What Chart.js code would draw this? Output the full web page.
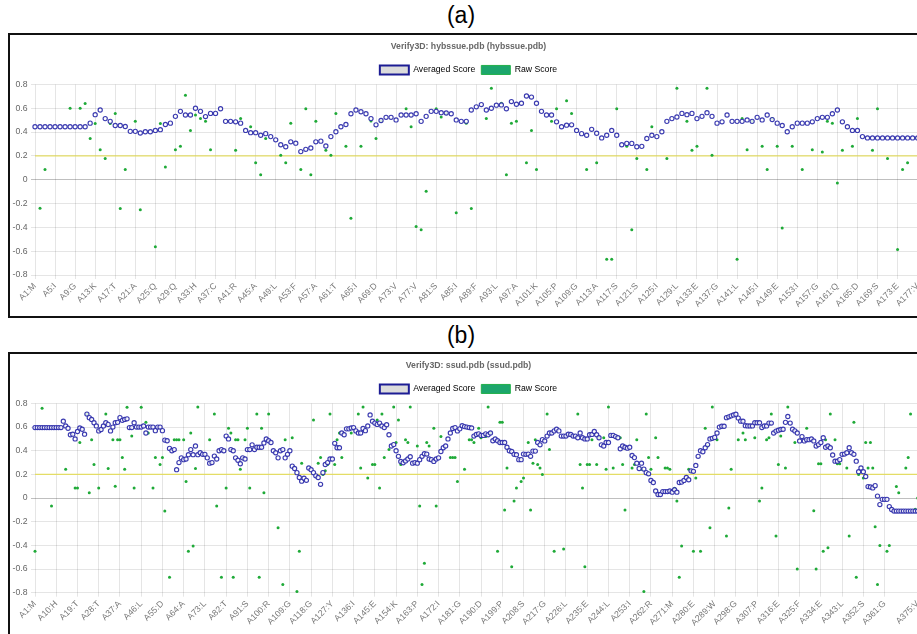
<!DOCTYPE html>
<html>
<head>
<meta charset="utf-8">
<script src="https://cdn.jsdelivr.net/npm/chart.js@4.4.1/dist/chart.umd.min.js"></script>
<style>
  html, body { margin: 0; padding: 0; background: #fff; }
  body { width: 917px; height: 634px; overflow: hidden; position: relative; font-family: "Liberation Sans", Arial, sans-serif; }
  .cap { position: absolute; left: 0; width: 922px; text-align: center; font-size: 23px; line-height: 1; color: #000; }
  .panel { position: absolute; left: 8px; width: 917px; height: 281px; border: 2px solid #111; background: #fff; overflow: hidden; }
  .panel canvas { display: block; }
</style>
</head>
<body>
<div class="cap" style="top:4px">(a)</div>
<div class="panel" style="top:33px"><canvas id="chartA" width="917" height="281"></canvas></div>
<div class="cap" style="top:324px">(b)</div>
<div class="panel" style="top:352px"><canvas id="chartB" width="917" height="281"></canvas></div>

<script>
// ---------- Verify3D profile of hybssue.pdb ----------
const titleA = 'Verify3D: hybssue.pdb (hybssue.pdb)';
const tickLabelsA = ['A1:M','A5:I','A9:G','A13:K','A17:T','A21:A','A25:Q','A29:Q','A33:H','A37:C',
  'A41:R','A45:A','A49:L','A53:F','A57:A','A61:T','A65:I','A69:D','A73:V','A77:V','A81:S','A85:I',
  'A89:F','A93:L','A97:A','A101:K','A105:P','A109:G','A113:A','A117:S','A121:S','A125:I','A129:L',
  'A133:E','A137:G','A141:L','A145:I','A149:E','A153:I','A157:G','A161:Q','A165:D','A169:S','A173:E','A177:V'];
// averaged (windowed) 3D-1D score, residues 1..177
const averagedA = [
  0.445,0.445,0.445,0.445,0.445,0.445,0.445,0.445,0.445,0.445,
  0.445,0.475,0.546,0.585,0.513,0.49,0.455,0.455,0.447,0.406,
  0.406,0.392,0.403,0.403,0.414,0.42,0.464,0.475,0.532,0.574,
  0.543,0.543,0.60,0.574,0.53,0.557,0.557,0.596,0.49,0.49,
  0.486,0.475,0.414,0.395,0.395,0.373,0.387,0.362,0.335,0.294,
  0.277,0.318,0.307,0.236,0.255,0.266,0.318,0.324,0.283,0.362,
  0.403,0.445,0.464,0.554,0.585,0.571,0.554,0.513,0.461,0.497,
  0.524,0.524,0.502,0.543,0.543,0.543,0.554,0.49,0.532,0.574,
  0.574,0.563,0.56,0.554,0.502,0.49,0.49,0.585,0.612,0.631,
  0.585,0.60,0.626,0.628,0.596,0.656,0.634,0.642,0.703,0.694,
  0.642,0.574,0.543,0.543,0.486,0.445,0.458,0.461,0.414,0.387,
  0.373,0.423,0.39,0.351,0.373,0.414,0.373,0.294,0.305,0.305,
  0.277,0.28,0.346,0.373,0.362,0.403,0.49,0.513,0.527,0.557,
  0.546,0.557,0.513,0.532,0.563,0.532,0.475,0.486,0.543,0.49,
  0.49,0.49,0.502,0.49,0.524,0.502,0.543,0.505,0.475,0.455,
  0.403,0.445,0.475,0.475,0.475,0.486,0.513,0.524,0.524,0.554,
  0.585,0.486,0.445,0.414,0.414,0.362,0.351,0.351,0.351,0.351,
  0.351,0.351,0.351,0.351,0.351,0.351,0.351];
// raw per-residue score: [residue, score]
const rawA = [
  [2,-0.24],[3,0.085],[8,0.6],[10,0.6],[11,0.64],[12,0.346],[13,0.472],[14,0.252],[15,0.178],[16,0.472],
  [17,0.557],[18,-0.241],[19,0.085],[21,0.49],[22,-0.252],[25,-0.563],[26,0.472],[27,0.107],[29,0.252],[30,0.28],
  [31,0.71],[32,0.414],[33,0.543],[34,0.513],[35,0.49],[36,0.252],[41,0.247],[42,0.513],[44,0.445],[45,0.143],
  [46,0.041],[47,0.346],[50,0.206],[51,0.143],[52,0.475],[54,0.085],[55,0.596],[56,0.041],[57,0.49],[59,0.247],
  [60,0.206],[61,0.557],[63,0.28],[64,-0.324],[66,0.28],[68,0.494],[69,0.346],[70,0.49],[75,0.596],[76,0.445],
  [77,-0.392],[78,-0.42],[79,-0.096],[81,0.596],[82,0.527],[83,0.557],[85,-0.277],[87,0.475],[88,-0.241],[91,0.513],
  [92,0.768],[94,0.642],[95,0.041],[96,0.475],[97,0.49],[99,0.143],[100,0.414],[101,0.085],[104,0.49],[105,0.596],
  [107,0.664],[108,0.557],[111,0.085],[113,0.143],[115,-0.667],[116,-0.667],[117,0.596],[119,0.28],[120,-0.42],[121,0.178],
  [123,0.085],[124,0.445],[127,0.178],[129,0.768],[131,0.49],[132,0.247],[133,0.28],[135,0.768],[136,0.206],[141,-0.667],
  [142,0.513],[143,0.252],[144,0.49],[146,0.28],[147,0.085],[148,0.513],[149,0.28],[150,-0.406],[152,0.28],[154,0.085],
  [156,0.252],[158,0.233],[159,0.49],[160,0.475],[161,-0.027],[162,0.247],[164,0.28],[165,0.513],[168,0.247],[169,0.596],
  [171,0.178],[173,-0.585],[174,0.085],[175,0.143],[177,0.354]];

// ---------- Verify3D profile of ssud.pdb ----------
const titleB = 'Verify3D: ssud.pdb (ssud.pdb)';
const tickLabelsB = ['A1:M','A10:H','A19:T','A28:T','A37:A','A46:L','A55:D','A64:A','A73:L','A82:T',
  'A91:S','A100:R','A109:G','A118:G','A127:Y','A136:I','A145:E','A154:K','A163:P','A172:I','A181:G',
  'A190:D','A199:P','A208:S','A217:G','A226:L','A235:E','A244:L','A253:I','A262:R','A271:M','A280:E',
  'A289:W','A298:G','A307:P','A316:E','A325:F','A334:E','A343:L','A352:S','A361:G','A375:V'];
// averaged (windowed) 3D-1D score, residues 1..375
const averagedB = [
  0.596,0.596,0.596,0.596,0.596,0.596,0.596,0.596,0.596,0.596,
  0.596,0.596,0.65,0.61,0.59,0.535,0.54,0.5,0.563,0.593,
  0.582,0.54,0.71,0.68,0.665,0.637,0.61,0.568,0.58,0.61,
  0.637,0.623,0.568,0.6,0.637,0.64,0.68,0.657,0.665,0.67,
  0.596,0.596,0.637,0.6,0.6,0.6,0.61,0.55,0.6,0.6,
  0.6,0.57,0.6,0.6,0.57,0.49,0.485,0.42,0.4,0.41,
  0.24,0.3,0.34,0.325,0.33,0.367,0.41,0.367,0.44,0.367,
  0.383,0.37,0.37,0.34,0.295,0.3,0.355,0.33,0.4,0.41,
  0.4,0.524,0.5,0.41,0.4,0.34,0.32,0.29,0.34,0.33,
  0.41,0.41,0.45,0.41,0.43,0.43,0.43,0.466,0.5,0.485,
  0.47,0.4,0.383,0.34,0.4,0.41,0.34,0.37,0.4,0.27,
  0.25,0.215,0.174,0.143,0.168,0.15,0.254,0.24,0.215,0.188,
  0.174,0.116,0.215,0.284,0.3,0.33,0.33,0.463,0.425,0.425,
  0.55,0.535,0.585,0.585,0.593,0.596,0.568,0.55,0.55,0.588,
  0.57,0.61,0.703,0.65,0.634,0.623,0.634,0.61,0.596,0.62,
  0.535,0.44,0.452,0.4,0.353,0.31,0.298,0.314,0.33,0.35,
  0.295,0.3,0.295,0.325,0.353,0.375,0.372,0.33,0.325,0.31,
  0.33,0.34,0.394,0.425,0.44,0.5,0.55,0.588,0.596,0.568,
  0.585,0.612,0.604,0.6,0.596,0.593,0.524,0.538,0.543,0.53,
  0.53,0.543,0.535,0.55,0.485,0.5,0.485,0.47,0.47,0.47,
  0.43,0.4,0.394,0.37,0.367,0.325,0.325,0.372,0.37,0.372,
  0.353,0.397,0.397,0.47,0.45,0.494,0.483,0.524,0.55,0.55,
  0.568,0.582,0.568,0.524,0.524,0.524,0.54,0.538,0.524,0.524,
  0.51,0.55,0.51,0.5,0.5,0.535,0.538,0.563,0.535,0.51,
  0.45,0.44,0.47,0.47,0.53,0.53,0.52,0.51,0.417,0.44,
  0.43,0.422,0.43,0.36,0.342,0.295,0.25,0.295,0.245,0.215,
  0.205,0.149,0.132,0.06,0.03,0.03,0.055,0.055,0.055,0.06,
  0.05,0.07,0.05,0.132,0.135,0.149,0.174,0.155,0.23,0.226,
  0.276,0.353,0.4,0.392,0.425,0.452,0.5,0.505,0.513,0.55,
  0.6,0.607,0.607,0.68,0.687,0.695,0.703,0.709,0.676,0.65,
  0.65,0.612,0.61,0.61,0.61,0.637,0.637,0.637,0.596,0.61,
  0.61,0.634,0.634,0.55,0.566,0.574,0.58,0.582,0.64,0.69,
  0.634,0.582,0.568,0.55,0.483,0.52,0.483,0.494,0.494,0.5,
  0.483,0.44,0.452,0.47,0.51,0.43,0.44,0.425,0.364,0.312,
  0.312,0.325,0.37,0.372,0.383,0.425,0.383,0.37,0.312,0.223,
  0.254,0.223,0.182,0.097,0.094,0.086,0.105,0.017,-0.055,-0.011,
  -0.011,-0.011,-0.072,-0.097,-0.11,-0.11,-0.11,-0.11,-0.11,-0.11,
  -0.11,-0.11,-0.11,-0.11,-0.11];
// raw per-residue score: [residue, score]
const rawB = [
  [1,-0.45],[4,0.76],[8,-0.066],[14,0.243],[18,0.086],[19,0.086],[20,0.47],[23,0.71],[24,0.044],[25,0.494],
  [26,0.284],[28,0.086],[31,0.71],[32,0.25],[34,0.494],[35,0.1],[36,0.494],[37,0.494],[38,0.342],[39,0.243],
  [40,0.767],[42,0.524],[43,0.086],[46,0.767],[48,0.64],[49,0.55],[51,0.086],[52,0.342],[54,0.284],[55,0.342],
  [56,-0.11],[58,-0.67],[60,0.494],[61,0.494],[62,0.494],[64,0.494],[65,0.14],[66,-0.45],[67,0.55],[68,-0.405],
  [69,0.25],[70,0.77],[75,0.494],[77,0.71],[78,-0.066],[80,-0.67],[82,0.086],[83,0.59],[84,0.55],[85,-0.67],
  [86,0.494],[87,0.494],[88,0.243],[90,0.494],[91,0.59],[92,0.086],[95,0.71],[96,-0.67],[97,0.59],[98,0.044],
  [100,0.71],[104,-0.25],[106,-0.73],[107,0.494],[110,0.51],[112,-0.79],[113,-0.45],[114,0.295],[119,0.66],[121,0.295],
  [122,0.342],[123,0.2],[124,0.23],[125,0.284],[126,0.71],[128,0.284],[129,0.494],[130,0.55],[131,0.342],[135,0.55],
  [138,0.71],[139,0.254],[140,0.77],[142,0.17],[144,0.284],[145,0.284],[146,0.66],[147,0.086],[148,0.71],[149,0.342],
  [151,0.41],[153,0.77],[154,0.47],[155,0.66],[156,0.284],[158,0.494],[159,0.47],[160,0.77],[163,0.44],[164,-0.066],
  [165,-0.73],[166,-0.55],[167,0.47],[168,0.44],[170,0.59],[171,-0.066],[173,0.52],[177,0.342],[178,0.342],[179,0.342],
  [180,0.14],[183,0.243],[185,0.494],[186,0.494],[187,0.47],[189,0.59],[190,0.51],[192,0.52],[193,0.77],[194,0.55],
  [197,-0.45],[198,0.64],[199,0.64],[200,-0.1],[201,0.254],[203,-0.58],[204,-0.025],[205,0.086],[207,0.14],[208,0.17],
  [210,0.47],[211,-0.1],[212,0.295],[213,0.494],[214,0.284],[215,0.254],[216,0.2],[218,0.71],[219,0.41],[221,-0.45],
  [225,-0.43],[231,0.71],[232,0.284],[233,0.086],[234,-0.58],[235,0.284],[236,0.284],[237,0.494],[239,0.284],[240,0.51],
  [242,0.51],[243,0.243],[244,0.77],[246,0.254],[249,0.51],[250,0.284],[251,-0.1],[254,0.254],[255,0.284],[256,0.494],
  [258,0.243],[259,-0.79],[260,0.71],[261,0.342],[262,0.243],[264,0.51],[265,0.342],[268,0.254],[269,0.254],[270,0.243],
  [272,0.083],[273,-0.025],[274,-0.67],[275,-0.405],[278,0.243],[279,0.232],[280,-0.45],[281,0.17],[283,-0.45],[285,0.59],
  [286,0.44],[287,-0.25],[288,0.77],[290,0.494],[294,-0.32],[295,-0.083],[296,0.243],[299,0.494],[301,0.55],[302,0.494],
  [306,0.51],[308,-0.025],[309,0.086],[311,0.494],[312,0.51],[313,0.71],[315,-0.32],[316,0.284],[317,0.524],[319,0.254],
  [320,0.77],[323,0.47],[324,-0.6],[328,0.59],[331,-0.107],[332,-0.6],[333,0.29],[334,0.29],[335,-0.45],[336,0.494],
  [337,-0.42],[338,0.71],[340,0.494],[341,0.29],[342,0.29],[345,0.254],[346,-0.32],[348,0.64],[349,-0.67],[350,0.2],
  [352,0.17],[353,0.47],[354,0.254],[355,0.47],[356,0.254],[357,-0.243],[358,-0.73],[359,-0.4],[362,-0.45],[363,-0.4],
  [366,0.097],[367,0.044],[370,0.254],[371,0.342],[372,0.71],[374,-0.094],[375,0.0]];

// quality threshold drawn across the profile
const THRESHOLD = 0.2;
const seriesNames = ['Averaged Score', 'Raw Score'];

const FONT = { family: "'Liberation Sans', Arial, Helvetica, sans-serif", size: 8.7 };

function residueOf(label) { return parseInt(label.slice(1), 10); }

// legend swatches use each series' own fill/border rather than its point style
function legendItems(chart) {
  return chart.data.datasets.slice(0, 2).map((ds, i) => ({
    text: ds.label,
    fillStyle: ds.backgroundColor,
    strokeStyle: ds.borderColor,
    lineWidth: ds.borderWidth,
    hidden: false,
    datasetIndex: i
  }));
}

function buildChart(canvasId, title, tickLabels, averaged, raw, xAxisHeight) {
  const nRes = averaged.length;
  const tickRes = tickLabels.map(residueOf);
  const labelAt = {};
  tickLabels.forEach(l => { labelAt[residueOf(l)] = l; });

  return new Chart(document.getElementById(canvasId), {
    type: 'scatter',
    data: {
      datasets: [
        {
          label: seriesNames[0],
          data: averaged.map((v, i) => ({ x: i + 1, y: v })),
          showLine: false,
          clip: false,
          backgroundColor: '#dcdcdc',
          borderColor: '#1c1c94',
          borderWidth: 2,
          pointRadius: 2.1,
          pointBorderWidth: 1.15,
          pointBorderColor: 'rgba(48,48,172,0.95)',
          pointBackgroundColor: 'rgba(255,255,255,0.85)'
        },
        {
          label: seriesNames[1],
          data: raw.map(p => ({ x: p[0], y: p[1] })),
          showLine: false,
          clip: false,
          backgroundColor: '#1ca66c',
          borderColor: '#22b04a',
          borderWidth: 1,
          pointRadius: 1.5,
          pointBorderWidth: 0,
          pointBackgroundColor: '#1faa38'
        },
        {
          label: 'threshold',
          data: [{ x: 1, y: THRESHOLD }, { x: nRes, y: THRESHOLD }],
          showLine: true,
          borderColor: 'rgba(228,220,95,0.95)',
          borderWidth: 1.3,
          pointRadius: 0
        }
      ]
    },
    options: {
      responsive: false,
      animation: false,
      events: [],
      layout: { padding: { left: 0, right: 0, top: 0, bottom: 0 } },
      plugins: {
        tooltip: { enabled: false },
        title: {
          display: true,
          text: title,
          color: '#666',
          font: { ...FONT, weight: 'bold' },
          padding: { top: 6.5, bottom: 7.5 }
        },
        legend: {
          display: true,
          labels: {
            generateLabels: legendItems,
            boxWidth: 29,
            boxHeight: 9,
            padding: 6,
            color: '#666',
            font: FONT
          }
        }
      },
      scales: {
        x: {
          type: 'linear',
          min: 1,
          max: nRes,
          afterBuildTicks: s => { s.ticks = tickRes.map(v => ({ value: v })); },
          afterFit: s => { s.height = xAxisHeight; },
          ticks: {
            autoSkip: false,
            minRotation: 45,
            maxRotation: 45,
            padding: 2,
            color: '#777',
            font: FONT,
            callback: v => labelAt[v] || ''
          },
          grid: { color: 'rgba(0,0,0,0.1)', tickLength: 4, lineWidth: 1 },
          border: { display: false }
        },
        y: {
          min: -0.8,
          max: 0.8,
          afterFit: s => { s.width = 25; },
          ticks: { stepSize: 0.2, padding: 3.5, color: '#666', font: FONT },
          grid: {
            tickLength: 4,
            color: c => (c.tick && Math.abs(c.tick.value) < 1e-9) ? 'rgba(0,0,0,0.25)' : 'rgba(0,0,0,0.1)'
          },
          border: { display: false }
        }
      }
    }
  });
}

buildChart('chartA', titleA, tickLabelsA, averagedA, rawA, 41);
buildChart('chartB', titleB, tickLabelsB, averagedB, rawB, 42.3);
</script>
</body>
</html>
